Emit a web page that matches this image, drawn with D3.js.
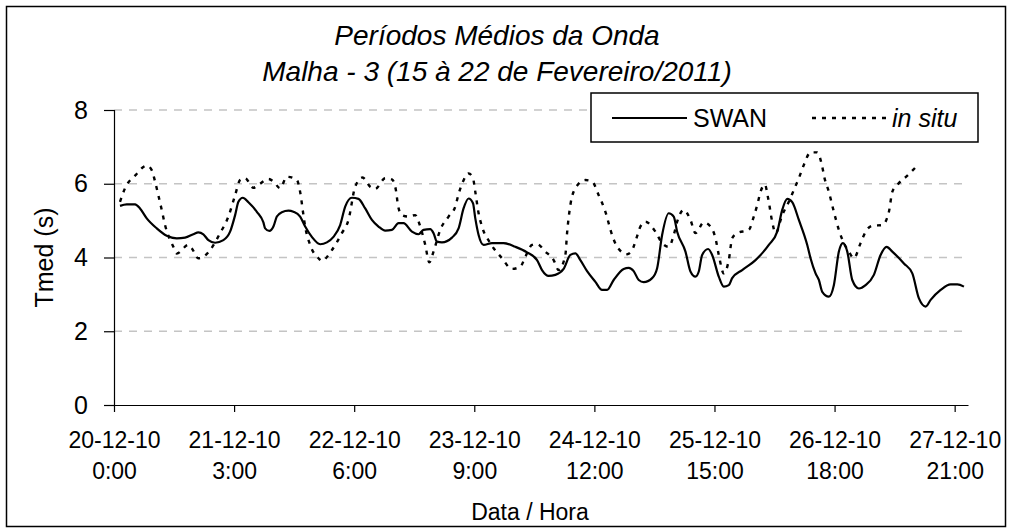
<!DOCTYPE html>
<html><head><meta charset="utf-8">
<script src="https://cdn.jsdelivr.net/npm/d3@7/dist/d3.min.js"></script>
<style>body{margin:0;background:#fff}svg{display:block}text{font-family:"Liberation Sans",Arial,sans-serif;fill:#000}</style>
</head><body><svg id="c" width="1012" height="532"></svg>
<script>
const titleLines = ["Períodos Médios da Onda", "Malha - 3 (15 à 22 de Fevereiro/2011)"];
const yLabel = "Tmed (s)";
const xLabel = "Data / Hora";
const tickHours = [0, 27, 54, 81, 108, 135, 162, 189];
const tickDates = ["20-12-10","21-12-10","22-12-10","23-12-10","24-12-10","25-12-10","26-12-10","27-12-10"];
const tickTimes = ["0:00","3:00","6:00","9:00","12:00","15:00","18:00","21:00"];
const yTicks = [0, 2, 4, 6, 8];
const seriesNames = ["SWAN", "in situ"];

const swanHours = [1.35,2.86,4.73,5.85,7.36,9.61,11.86,14.11,15.98,17.84,18.97,20.09,21.22,22.73,24.59,26.1,27.23,27.97,28.96,30.22,32.11,33.59,33.98,34.94,35.84,36.61,37.73,39.22,40.34,41.85,42.98,44.48,46.35,47.86,49.34,50.85,51.98,53.48,54.97,56.48,57.98,59.47,60.98,62.48,63.97,65.09,66.98,68.47,69.59,71.1,71.84,72.61,73.73,75.98,77.47,78.59,79.72,80.71,81.23,81.97,83.09,84.98,87.59,90.23,92.86,95.11,96.23,97.72,99.23,101.09,102.6,103.73,104.85,106.36,108.23,109.73,110.86,112.34,114.59,115.72,116.84,117.97,119.09,120.98,122.11,123.23,124.72,125.84,126.61,128.48,129.6,130.73,131.47,132.23,133.58,134.48,135.97,137.09,138.22,138.98,141.23,144.23,147.22,149.11,150.23,151.36,152.48,153.97,155.86,156.6,157.73,158.47,159.23,160.72,161.84,162.97,163.87,164.86,165.98,167.47,168.98,170.84,172.35,173.7,174.98,177.59,179.48,180.97,182.48,183.6,185.85,188.1,189.61,191.09];
const swanValues = [5.40,5.44,5.44,5.33,5.06,4.79,4.59,4.52,4.54,4.63,4.68,4.63,4.47,4.40,4.47,4.70,5.15,5.51,5.62,5.50,5.24,4.95,4.79,4.72,4.84,5.11,5.23,5.27,5.24,5.11,4.84,4.56,4.36,4.41,4.56,4.88,5.38,5.62,5.59,5.33,5.02,4.84,4.73,4.75,4.93,4.93,4.70,4.63,4.75,4.77,4.66,4.43,4.41,4.54,4.79,5.33,5.60,5.47,5.06,4.61,4.34,4.39,4.39,4.29,4.14,3.93,3.66,3.50,3.53,3.69,4.07,4.11,3.93,3.63,3.34,3.12,3.12,3.39,3.69,3.72,3.63,3.39,3.33,3.44,3.71,4.61,5.20,5.11,4.70,4.16,3.62,3.48,3.62,4.07,4.23,4.07,3.48,3.21,3.25,3.44,3.66,3.93,4.34,4.70,5.29,5.59,5.50,5.02,4.34,3.98,3.57,3.39,3.07,2.94,3.25,4.16,4.39,4.16,3.39,3.16,3.25,3.53,4.07,4.29,4.16,3.84,3.57,2.89,2.67,2.85,3.12,3.27,3.27,3.21];

const insituHours = [1.35,2.48,4.73,7.36,8.48,9.23,9.97,10.73,11.48,13.34,14.11,16.72,17.48,18.97,20.09,21.6,23.85,25.72,27.23,28.35,29.48,31.34,32.47,34.72,35.84,37.35,38.86,41.11,41.85,42.59,42.98,44.1,45.97,46.73,48.98,51.23,52.72,54.23,55.87,57.6,58.73,60.98,62.48,63.45,63.83,64.73,66.22,67.73,68.85,69.98,70.88,71.84,73.35,75.22,76.73,77.4,78.3,79.72,80.71,81.23,81.97,82.73,84.6,87.23,89.48,91.35,92.48,93.98,95.11,96.98,98.84,99.97,101.48,101.86,102.6,103.73,105.98,107.48,108.97,110.48,111.98,113.11,115.36,116.48,117.45,118.35,119.48,121.73,123.23,124.72,125.84,126.61,128.09,129.6,130.73,132.59,134.1,135.23,135.97,137.09,138.22,138.98,140.11,142.72,143.84,144.61,145.35,146.32,147.08,147.98,148.73,150.23,151.72,152.84,153.97,155.09,156.6,158.11,159.23,159.75,160.72,161.84,162.97,164.09,165.22,166.34,167.85,168.98,170.48,172.73,174.22,174.98,176.11,178.36,180.97];
const insituValues = [5.51,5.88,6.22,6.49,6.37,6.06,5.69,5.29,4.88,4.29,4.11,4.34,4.25,3.98,4.02,4.20,4.66,5.11,5.69,6.10,6.15,5.89,5.97,6.13,6.06,5.88,6.19,6.10,5.78,5.15,4.84,4.34,3.98,3.91,4.20,4.66,5.02,5.92,6.17,5.92,5.86,6.15,6.12,5.78,5.42,5.15,5.11,5.15,4.84,4.34,3.87,4.16,4.75,5.11,5.38,5.69,6.01,6.28,6.15,5.78,5.20,4.84,4.39,3.98,3.69,3.75,4.02,4.34,4.36,4.16,3.93,3.66,4.07,4.66,5.42,5.88,6.10,6.06,5.69,5.24,4.61,4.29,4.09,4.20,4.52,4.84,4.97,4.70,4.39,4.29,4.61,4.97,5.29,5.02,4.66,4.95,4.84,4.52,4.07,3.57,3.93,4.52,4.66,4.75,5.11,5.42,5.78,5.98,5.60,4.97,4.66,5.15,5.51,5.83,6.15,6.51,6.85,6.85,6.46,6.15,5.78,5.24,4.75,4.39,4.16,3.98,4.39,4.70,4.86,4.88,5.24,5.78,5.97,6.22,6.54];

const svg = d3.select("#c");
const plot = {left: 114, right: 968, top: 110, bottom: 405};

const x = d3.scaleLinear().domain([0, 192]).range([plot.left, plot.right]);
const y = d3.scaleLinear().domain([0, 8]).range([plot.bottom, plot.top]);

// outer border
svg.append("rect").attr("x", 6.5).attr("y", 6.5).attr("width", 999).attr("height", 520)
  .attr("fill", "#fff").attr("stroke", "#000").attr("stroke-width", 1.5);

// title
titleLines.forEach((t, i) => {
  svg.append("text").attr("x", 497).attr("y", 45 + i * 36).attr("text-anchor", "middle")
    .attr("font-size", 28).attr("font-style", "italic").text(t);
});

// gridlines
svg.append("g").selectAll("line").data(yTicks.filter(d => d > 0)).join("line")
  .attr("x1", plot.left).attr("x2", plot.right)
  .attr("y1", d => y(d)).attr("y2", d => y(d))
  .attr("stroke", "#c4c4c4").attr("stroke-width", 1.5).attr("stroke-dasharray", "8,7");

// y axis
const yAxis = svg.append("g").attr("transform", `translate(${plot.left},0)`)
  .call(d3.axisLeft(y).tickValues(yTicks).tickSize(10).tickPadding(16).tickFormat(d3.format("d")));
yAxis.select(".domain").attr("stroke", "#000").attr("stroke-width", 1.2);
yAxis.selectAll(".tick line").attr("stroke", "#000").attr("stroke-width", 1.2);
yAxis.selectAll("text").attr("font-size", 25).attr("font-family", "Liberation Sans, Arial, sans-serif").attr("fill", "#000");

// x axis
const xAxis = svg.append("g").attr("transform", `translate(0,${plot.bottom})`)
  .call(d3.axisBottom(x).tickValues(tickHours).tickSize(7).tickSizeOuter(0).tickFormat(""));
xAxis.select(".domain").attr("stroke", "#000").attr("stroke-width", 1.2);
xAxis.selectAll(".tick line").attr("stroke", "#000").attr("stroke-width", 1.2);
const xt = xAxis.selectAll(".tick");
xt.append("text").attr("y", 43).attr("text-anchor", "middle").attr("font-size", 23)
  .attr("font-family", "Liberation Sans, Arial, sans-serif").attr("fill", "#000")
  .text((d, i) => tickDates[i]);
xt.append("text").attr("y", 74).attr("text-anchor", "middle").attr("font-size", 23)
  .attr("font-family", "Liberation Sans, Arial, sans-serif").attr("fill", "#000")
  .text((d, i) => tickTimes[i]);

// axis titles
svg.append("text").attr("transform", `translate(53,${(plot.top + plot.bottom) / 2}) rotate(-90)`)
  .attr("text-anchor", "middle").attr("font-size", 25).text(yLabel);
svg.append("text").attr("x", 530).attr("y", 520).attr("text-anchor", "middle")
  .attr("font-size", 23).text(xLabel);

// lines
const line = d3.line().x(d => x(d[0])).y(d => y(d[1])).curve(d3.curveMonotoneX);
const swan = swanHours.map((h, i) => [h, swanValues[i]]);
const insitu = insituHours.map((h, i) => [h, insituValues[i]]);
svg.append("path").datum(insitu).attr("d", line).attr("fill", "none")
  .attr("stroke", "#000").attr("stroke-width", 2.4).attr("stroke-dasharray", "4,6");
svg.append("path").datum(swan).attr("d", line).attr("fill", "none")
  .attr("stroke", "#000").attr("stroke-width", 2.2);

// legend
const lg = svg.append("g");
lg.append("rect").attr("x", 591).attr("y", 93).attr("width", 387).attr("height", 49)
  .attr("fill", "#fff").attr("stroke", "#000").attr("stroke-width", 1.5);
lg.append("line").attr("x1", 612).attr("x2", 687).attr("y1", 118).attr("y2", 118)
  .attr("stroke", "#000").attr("stroke-width", 2.2);
lg.append("text").attr("x", 693).attr("y", 127).attr("font-size", 25).text(seriesNames[0]);
lg.append("line").attr("x1", 812).attr("x2", 887).attr("y1", 118).attr("y2", 118)
  .attr("stroke", "#000").attr("stroke-width", 2.4).attr("stroke-dasharray", "4,6");
lg.append("text").attr("x", 892).attr("y", 127).attr("font-size", 25).attr("font-style", "italic").text(seriesNames[1]);
</script></body></html>
